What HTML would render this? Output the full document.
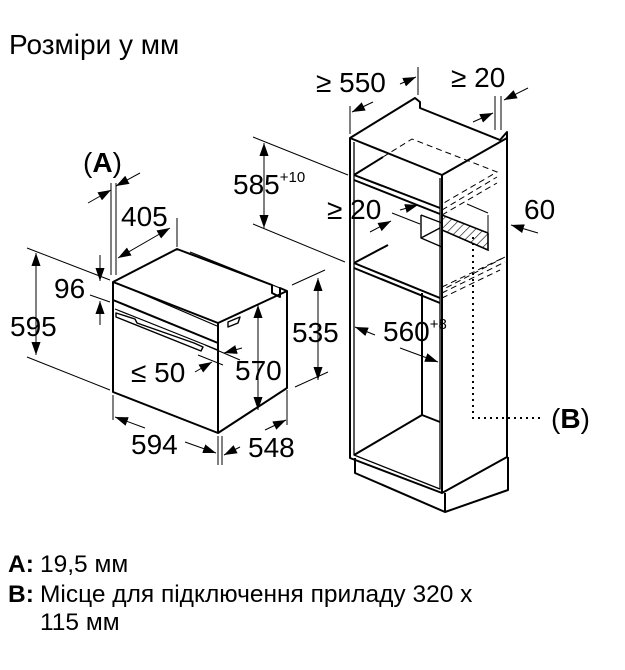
<!DOCTYPE html>
<html><head><meta charset="utf-8"><style>
html,body{margin:0;padding:0;background:#fff;width:625px;height:670px;overflow:hidden}
svg{display:block}
text{font-family:"Liberation Sans",Arial,sans-serif;fill:#000}
</style></head><body>
<svg width="625" height="670" viewBox="0 0 625 670" xmlns="http://www.w3.org/2000/svg">
<defs>
<marker id="a" viewBox="0 0 10 10" refX="10" refY="5" markerWidth="13" markerHeight="13" markerUnits="userSpaceOnUse" orient="auto-start-reverse"><path d="M0,1.5L10,5L0,8.5z" fill="#000"/></marker>
<pattern id="h" width="6" height="6" patternUnits="userSpaceOnUse" patternTransform="rotate(45)"><line x1="0" y1="0" x2="0" y2="6" stroke="#000" stroke-width="1.2"/></pattern>
</defs>
<text x="9" y="54" font-size="28">Розміри у мм</text>

<g fill="none" stroke="#000" stroke-width="2" stroke-linejoin="round">
<!-- oven -->
<path d="M113,282 L113,392 L218,433 L287,388 L287,291 L280,288 L280,297 L272,293 L272,285 L177,249 L113,282 Z"/>
<path d="M113,282 L218,323 L218,433"/>
<path d="M218,323 L287,291"/>
<path d="M113,300 L218,343"/>
<path d="M117,283 L217,326" stroke-width="1.2"/>
<path d="M115,309 L218,350" stroke-width="1.2"/>
<path d="M190,252 L280,288" stroke-width="1.2"/>
<path d="M116,313 L135,319 L137,323 L194,343 L203,347 L201,351 L116,317 Z" stroke-width="1.4"/>
<path d="M228,322 L240,317 L238,323 L228,327 Z" stroke-width="1.4"/>
<!-- cabinet -->
<path d="M350,138 L415,98 L420,102 L420,108 L500,140 L507,132 L507,457 L442,493 L442,175 L350,138 Z"/>
<path d="M442,175 L507,138"/>
<path d="M350,138 L350,458 L442,493"/>
<path d="M354,142 L354,455 L440,489 L440,178" stroke-width="1.3"/>
<path d="M355,458 L355,473 L445,512 L508,490 L508,457"/>
<path d="M445,512 L445,493"/>
<!-- shelves -->
<path d="M354,175 L440,208 M354,180 L440,214 M354,175 L383,157"/>
<path d="M354,263 L440,298 M354,268 L440,303 M354,263 L388,245"/>
<path d="M422,415 L354,455 M422,415 L440,422 M422,293 L422,415"/>
<path d="M421,215 L421,238 L442,247 M421,215 L442,223 M421,238 L440,228" stroke-width="1.4"/>
</g>
<g fill="none" stroke="#000" stroke-width="1" stroke-dasharray="6,4">
<path d="M383,157 L412,139 L497,172 L442,204"/>
<path d="M442,210 L497,177 M442,215 L497,183"/>
<path d="M442,287 L505,257 L442,290 M442,293 L505,262 M442,298 L500,270"/>
</g>
<path d="M442,215 L488,233 L488,250 L442,230 Z" fill="url(#h)" stroke="#000" stroke-width="1.6"/>
<path d="M473,237 L473,418 L543,418" fill="none" stroke="#000" stroke-width="2" stroke-dasharray="2,4"/>

<g fill="none" stroke="#000" stroke-width="1">
<path d="M111,183 L111,275 M116,183 L116,275"/>
<path d="M88,203 L111,190" marker-end="url(#a)"/>
<path d="M140,173 L116,186" marker-end="url(#a)"/>
<path d="M177,218 L177,247"/>
<path d="M170,228 L118,258" marker-start="url(#a)" marker-end="url(#a)"/>
<path d="M27,248 L110,280 M27,357 L110,390 M90,295 L110,302"/>
<path d="M36,253 L36,355" marker-start="url(#a)" marker-end="url(#a)"/>
<path d="M100,255 L100,281" marker-end="url(#a)"/>
<path d="M100,325 L100,301" marker-end="url(#a)"/>
<path d="M205,345 L240,360 M198,355 L223,365"/>
<path d="M242,348 L224,353" marker-end="url(#a)"/>
<path d="M195,372 L212,362" marker-end="url(#a)"/>
<path d="M258,305 L258,410" marker-start="url(#a)" marker-end="url(#a)"/>
<path d="M292,285 L325,270 M295,387 L328,372"/>
<path d="M318,278 L318,380" marker-start="url(#a)" marker-end="url(#a)"/>
<path d="M113,395 L113,420 M218,436 L218,465 M222,436 L222,465 M287,390 L287,425"/>
<path d="M145,428 L115,417" marker-end="url(#a)"/>
<path d="M185,442 L216,453" marker-end="url(#a)"/>
<path d="M265,430 L286,420" marker-end="url(#a)"/>
<path d="M240,447 L224,455" marker-end="url(#a)"/>
<path d="M253,137 L348,175 M253,224 L345,262"/>
<path d="M264,143 L264,228" marker-start="url(#a)" marker-end="url(#a)"/>
<path d="M350,106 L350,134 M418,67 L418,95"/>
<path d="M373,102 L352,112" marker-end="url(#a)"/>
<path d="M400,84 L416,77" marker-end="url(#a)"/>
<path d="M495,96 L495,130 M501,96 L501,130"/>
<path d="M473,122 L493,113" marker-end="url(#a)"/>
<path d="M528,88 L504,100" marker-end="url(#a)"/>
<path d="M392,213 L420,224"/>
<path d="M400,210 L418,205" marker-end="url(#a)"/>
<path d="M370,232 L391,221" marker-end="url(#a)"/>
<path d="M488,215 L488,232 M467,204 L488,213"/>
<path d="M538,233 L511,225" marker-end="url(#a)"/>
<path d="M375,335 L355,327" marker-end="url(#a)"/>
<path d="M400,348 L438,362" marker-end="url(#a)"/>
</g>

<g font-size="28">
<text x="83" y="172">(<tspan font-weight="bold">A</tspan>)</text>
<text x="121" y="226">405</text>
<text x="54" y="298">96</text>
<text x="10" y="336">595</text>
<text x="131" y="382">≤ 50</text>
<text x="235" y="380">570</text>
<text x="292" y="342">535</text>
<text x="131" y="454">594</text>
<text x="248" y="457">548</text>
<text x="233" y="194">585<tspan font-size="15" dy="-12">+10</tspan></text>
<text x="316" y="92">≥ 550</text>
<text x="451" y="87">≥ 20</text>
<text x="327" y="219">≥ 20</text>
<text x="524" y="219">60</text>
<text x="383" y="341">560<tspan font-size="15" dy="-12">+8</tspan></text>
<text x="551" y="428">(<tspan font-weight="bold">B</tspan>)</text>
</g>

<g font-size="24.5">
<text x="8" y="572" font-weight="bold">A:</text><text x="40" y="572">19,5 мм</text>
<text x="8" y="602" font-weight="bold">B:</text><text x="40" y="602">Місце для підключення приладу 320 х</text>
<text x="40" y="630">115 мм</text>
</g>
</svg>
</body></html>
